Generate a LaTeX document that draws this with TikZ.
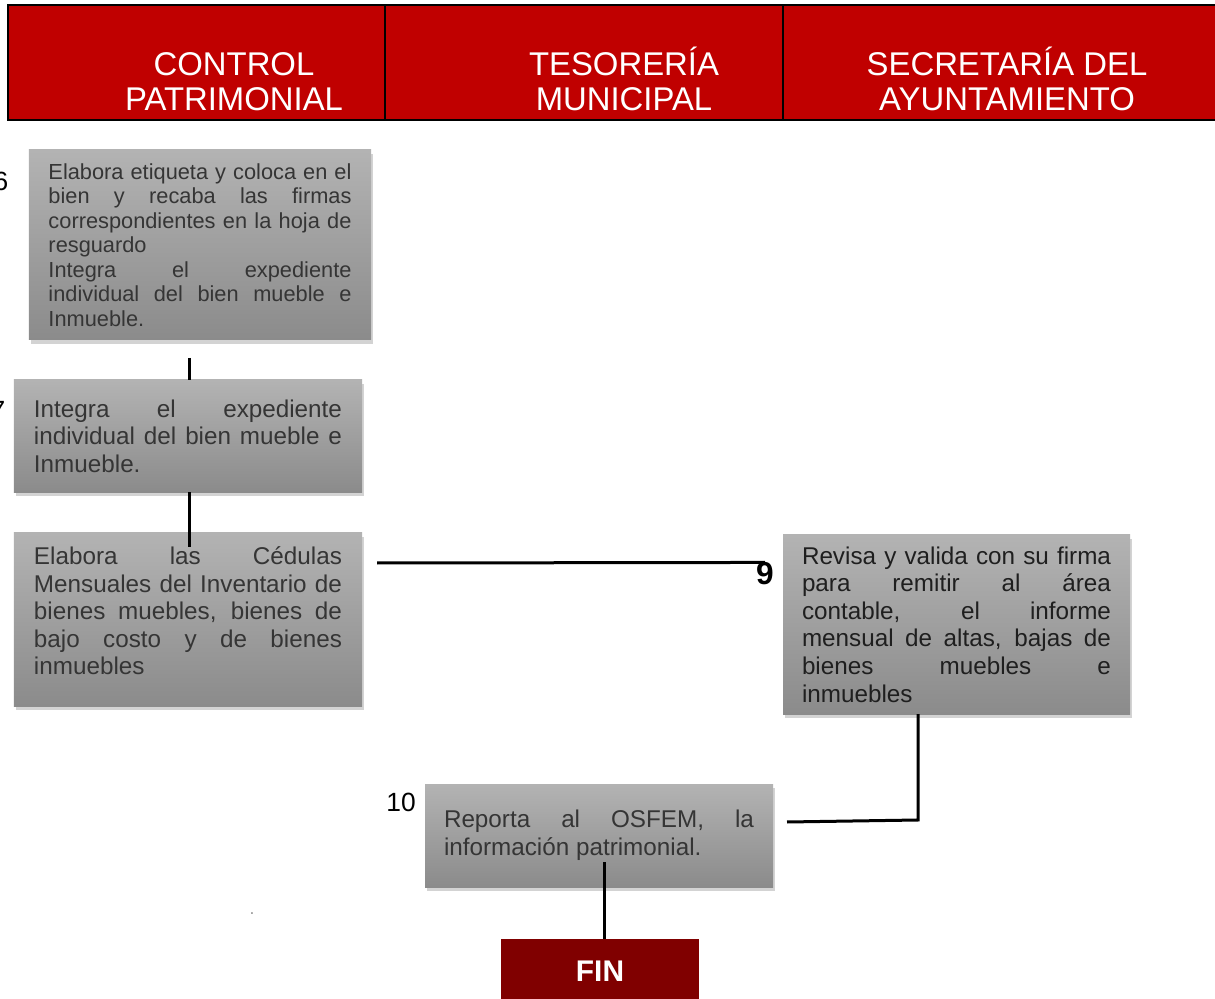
\documentclass[tikz,border=0pt]{standalone}
\usepackage{fontspec}
\setmainfont{Liberation Sans}
\usetikzlibrary{shadows}
\definecolor{rojoEnc}{HTML}{C00000}
\definecolor{rojoFin}{HTML}{800000}
\definecolor{grisArr}{HTML}{B3B3B3}
\definecolor{grisAba}{HTML}{8B8B8B}
\definecolor{grisTxt}{HTML}{353535}
\hyphenpenalty=10000
\exhyphenpenalty=10000
\tikzset{
  paso/.style={top color=grisArr, bottom color=grisAba, text=grisTxt, align=justify,
    inner sep=0pt, font=\fontsize{13.8}{15.7}\selectfont,
    drop shadow={shadow xshift=0.4mm, shadow yshift=-0.8mm, opacity=0.35}},
  encab/.style={text=white, align=center, font=\fontsize{18.7}{19.9}\selectfont},
  linea/.style={line width=0.6mm},
  num/.style={font=\fontsize{15}{17}\selectfont}
}
\begin{document}
\begin{tikzpicture}[x=0.2mm,y=-0.2mm]
\useasboundingbox (0,0) rectangle (1215,999);
% encabezado
\draw[fill=rojoEnc, line width=0.25mm] (8,5) rectangle (1222,120);
\draw[line width=0.45mm] (8,120) -- (1215,120);
\foreach \x in {385,783}{
  \draw[line width=0.25mm] (\x,5) -- (\x,120);
}
\node[encab] (tCP) at (234,82) {CONTROL\\PATRIMONIAL};
\node[encab] (tTM) at (624,79) {TESORERÍA\\MUNICIPAL};
\node[encab] (tSA) at (1007,79) {SECRETARÍA DEL\\AYUNTAMIENTO};
% pasos
\node[paso, minimum width=68.4mm, minimum height=38mm, text width=60.6mm,
  font=\fontsize{12.4}{13.9}\selectfont] (p6) at (200,245)
  {Elabora etiqueta y coloca en el\linebreak bien y recaba las firmas\linebreak correspondientes en la hoja de\linebreak resguardo\newline Integra el expediente\linebreak individual del bien mueble e\linebreak Inmueble.};
\node[paso, minimum width=69.6mm, minimum height=22.4mm, text width=61.6mm] (p7) at (188,436)
  {Integra el expediente\linebreak individual del bien mueble e\linebreak Inmueble.};
\node[paso, minimum width=69.6mm, minimum height=34.6mm, text width=61.6mm] (p8) at (188,619.5)
  {Elabora las Cédulas\linebreak Mensuales del Inventario de\linebreak bienes muebles, bienes de\linebreak bajo costo y de bienes\linebreak inmuebles\par\vspace*{3.4mm}};
\node[paso, minimum width=69.4mm, minimum height=35.8mm, text width=61.8mm, text=black!88] (p9) at (956.5,624.5)
  {Revisa y valida con su firma\linebreak para remitir al área\linebreak contable, el informe\linebreak mensual de altas, bajas de\linebreak bienes muebles e\linebreak inmuebles};
\node[paso, minimum width=69.6mm, minimum height=20.6mm, text width=62mm] (p10) at (599,835.5)
  {Reporta al OSFEM, la\linebreak información patrimonial.};
\node[fill=rojoFin, text=white, minimum width=39.6mm, minimum height=12.8mm,
  font=\fontsize{17}{19}\bfseries] (fin) at (600,971) {FIN};
% numeros
\node[num] (n6) at (1,181) {6};
\node[num] (n7) at (-2,410) {7};
\node[num, inner sep=0pt, font=\fontsize{18}{20}\bfseries] (n9) at (765,574) {9};
\node[num] (n10) at (401,802) {10};
\node[text=gray!80, font=\normalsize] (punto) at (252,914) {.};
% conectores
\coordinate (l67) at (189,358);
\coordinate (l78) at (189,547);
\coordinate (l89) at (377,563);
\coordinate (l910) at (918,714);
\coordinate (l109) at (787,822);
\coordinate (lfin) at (604,862);
\draw[linea] (l67) -- (l67 |- p7.north);
\draw[linea] (l67 |- p7.south) -- (l78);
\draw[linea] (l89) -- (n9.north);
\draw[linea] (l910) -- (918,820) -- (l109);
\draw[linea] (lfin) -- (lfin |- fin.north);
\end{tikzpicture}
\end{document}
